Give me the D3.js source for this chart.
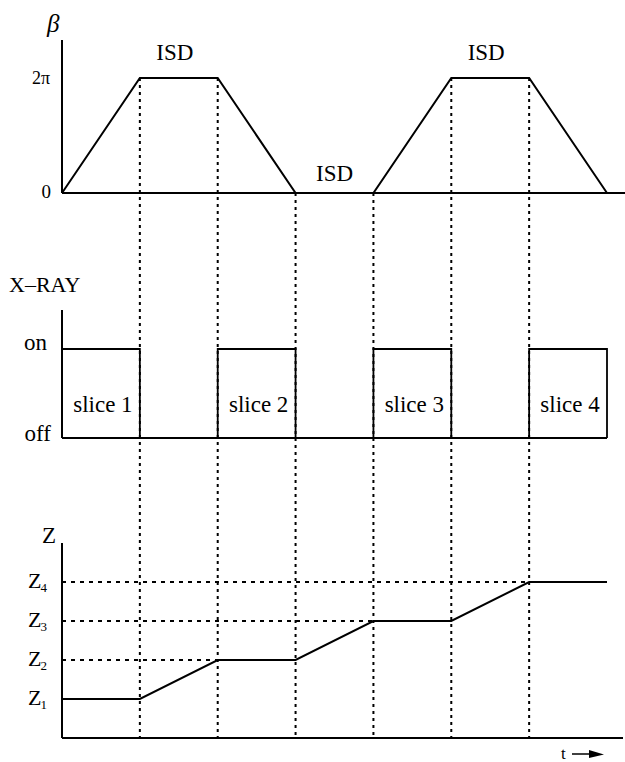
<!DOCTYPE html>
<html>
<head>
<meta charset="utf-8">
<script src="https://cdn.jsdelivr.net/npm/d3@7"></script>
<style>
  body { margin: 0; background: #fff; }
</style>
</head>
<body>
<script>
var svgWidth = 625;
var svgHeight = 762;

// time steps shared by all three panels
var times = [0, 1, 2, 3, 4, 5, 6, 7];
// gantry angle in units of pi
var beta = [0, 2, 2, 0, 0, 2, 2, 0];
// x-ray on intervals [start, end]
var slices = [[0, 1], [2, 3], [4, 5], [6, 7]];
var sliceLabels = ["slice 1", "slice 2", "slice 3", "slice 4"];
// table position level
var zPos = [1, 1, 2, 2, 3, 3, 4, 4];
var zLabels = ["1", "2", "3", "4"];
var isdLabels = [[1.5, 2, "top"], [3.5, 0, "low"], [5.5, 2, "top"]];

var svg = d3.select("body")
  .append("svg")
  .attr("width", svgWidth)
  .attr("height", svgHeight)
  .attr("font-family", "'Liberation Serif', 'Times New Roman', Times, serif");

var x = d3.scaleLinear().domain([0, 7]).range([62, 607]);
var yBeta = d3.scaleLinear().domain([0, 2]).range([193, 78]);
var yRay = d3.scaleLinear().domain([0, 1]).range([438, 349]);
var yZ = d3.scaleLinear().domain([0, 4]).range([738, 582]);

var solid = function(sel, w) {
  return sel.attr("fill", "none").attr("stroke", "#000").attr("stroke-width", w || 2);
};

// dashed verticals, from the beta curve down to the t axis
svg.selectAll(".vdash")
  .data(times.slice(1, 7))
  .enter()
  .append("line")
  .attr("x1", d => x(d))
  .attr("x2", d => x(d))
  .attr("y1", d => yBeta(beta[d]))
  .attr("y2", yZ(0))
  .attr("stroke", "#000")
  .attr("stroke-width", 2)
  .attr("stroke-dasharray", "3,4");

// ---- beta panel ----
svg.append("line").call(solid)
  .attr("x1", x(0)).attr("x2", x(0)).attr("y1", 40).attr("y2", yBeta(0));
svg.append("line").call(solid)
  .attr("x1", x(0)).attr("x2", 625).attr("y1", yBeta(0)).attr("y2", yBeta(0));

var betaLine = d3.line()
  .x(d => x(d))
  .y(d => yBeta(beta[d]));

svg.append("path")
  .datum(times)
  .attr("d", betaLine)
  .call(solid);

svg.append("text")
  .attr("x", 47).attr("y", 32)
  .attr("font-size", 25).attr("font-style", "italic")
  .text("β");

svg.append("text")
  .attr("x", 50).attr("y", yBeta(2) + 6)
  .attr("text-anchor", "end")
  .attr("font-size", 18)
  .text("2π");

svg.append("text")
  .attr("x", 51).attr("y", yBeta(0) + 5)
  .attr("text-anchor", "end")
  .attr("font-size", 19)
  .text("0");

svg.selectAll(".isd")
  .data(isdLabels)
  .enter()
  .append("text")
  .attr("x", d => x(d[0]) - (d[2] === "top" ? 4 : 0))
  .attr("y", d => yBeta(d[1]) - (d[2] === "top" ? 18 : 12))
  .attr("text-anchor", "middle")
  .attr("font-size", 23)
  .text("ISD");

// ---- x-ray panel ----
svg.append("text")
  .attr("x", 9).attr("y", 292)
  .attr("font-size", 22)
  .text("X–RAY");

svg.append("line").call(solid)
  .attr("x1", x(0)).attr("x2", x(0)).attr("y1", 310).attr("y2", yRay(0));
svg.append("line").call(solid)
  .attr("x1", x(0)).attr("x2", x(7)).attr("y1", yRay(0)).attr("y2", yRay(0));

svg.selectAll(".slice")
  .data(slices)
  .enter()
  .append("path")
  .attr("d", d => "M" + x(d[0]) + "," + yRay(0) + "V" + yRay(1) + "H" + x(d[1]) + "V" + yRay(0))
  .call(solid, 1.8);

svg.selectAll(".slabel")
  .data(slices)
  .enter()
  .append("text")
  .attr("x", d => x((d[0] + d[1]) / 2) + 2)
  .attr("y", 412)
  .attr("text-anchor", "middle")
  .attr("font-size", 23)
  .text((d, i) => sliceLabels[i]);

svg.append("text")
  .attr("x", 47).attr("y", yRay(1) + 1)
  .attr("text-anchor", "end")
  .attr("font-size", 23)
  .text("on");

svg.append("text")
  .attr("x", 51).attr("y", yRay(0) + 3)
  .attr("text-anchor", "end")
  .attr("font-size", 23)
  .text("off");

// ---- z panel ----
svg.append("line").call(solid)
  .attr("x1", x(0)).attr("x2", x(0)).attr("y1", 543).attr("y2", yZ(0));
svg.append("line").call(solid)
  .attr("x1", x(0)).attr("x2", 623).attr("y1", yZ(0)).attr("y2", yZ(0));

svg.append("text")
  .attr("x", 42).attr("y", 543)
  .attr("font-size", 23)
  .text("Z");

// horizontal dashes up to where the table reaches each level
svg.selectAll(".hdash")
  .data([2, 3, 4])
  .enter()
  .append("line")
  .attr("x1", x(0))
  .attr("x2", d => x(zPos.indexOf(d)))
  .attr("y1", d => yZ(d))
  .attr("y2", d => yZ(d))
  .attr("stroke", "#000")
  .attr("stroke-width", 2)
  .attr("stroke-dasharray", "4,5");

var zLine = d3.line()
  .x(d => x(d))
  .y(d => yZ(zPos[d]));

svg.append("path")
  .datum(times)
  .attr("d", zLine)
  .call(solid);

var zt = svg.selectAll(".zlabel")
  .data(zLabels)
  .enter()
  .append("text")
  .attr("x", 28)
  .attr("y", (d, i) => yZ(i + 1) + 6)
  .attr("font-size", 22);
zt.append("tspan").text("Z");
zt.append("tspan")
  .attr("dy", 4)
  .attr("dx", -1)
  .attr("font-size", 13)
  .text(d => d);

// t arrow
svg.append("text")
  .attr("x", 561).attr("y", 759)
  .attr("font-size", 17)
  .text("t");
svg.append("line")
  .attr("x1", 572).attr("x2", 592).attr("y1", 754).attr("y2", 754)
  .attr("stroke", "#000").attr("stroke-width", 1.5);
svg.append("path")
  .attr("d", "M589,750L604,754.5L589,758Z")
  .attr("fill", "#000");
</script>
</body>
</html>
